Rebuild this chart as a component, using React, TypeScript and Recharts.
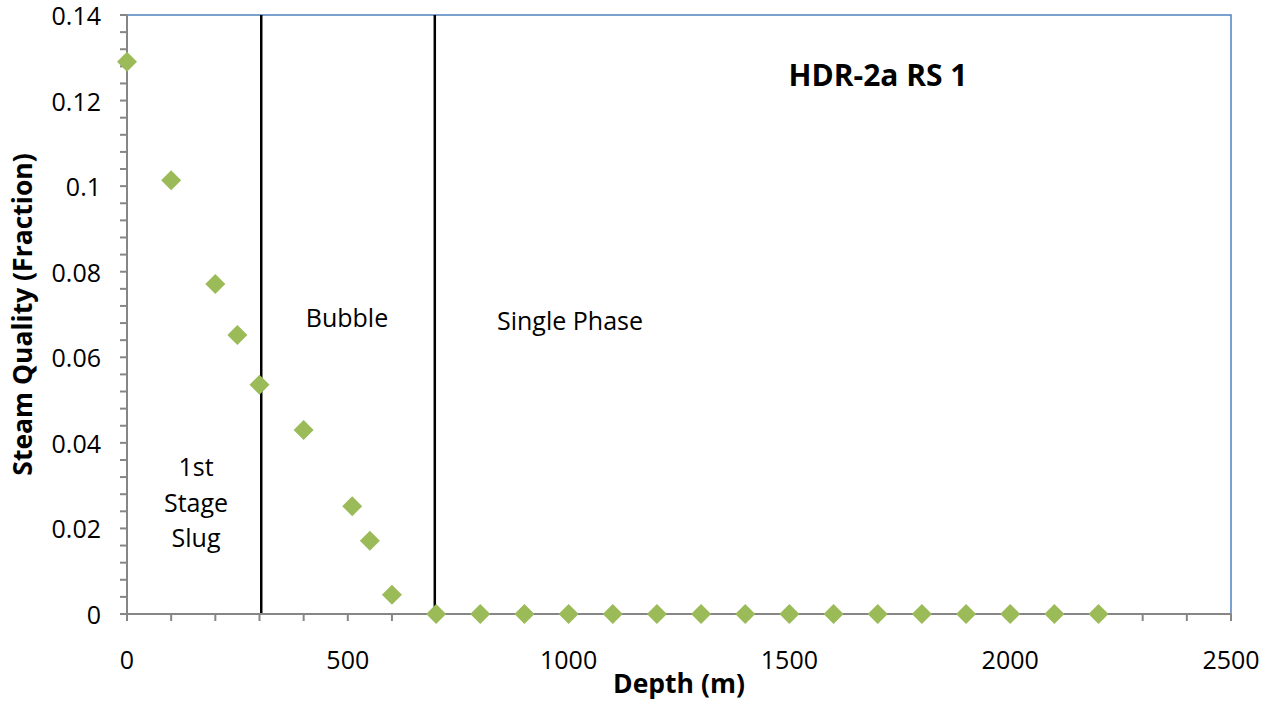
import { ScatterChart, Scatter, XAxis, YAxis, ReferenceLine, ReferenceArea, Label } from 'recharts';

// depth (m) vs steam quality for HDR-2a RS 1
const depth = [0, 100, 200, 250, 300, 400, 510, 550, 600, 700, 800, 900, 1000, 1100, 1200, 1300, 1400, 1500, 1600, 1700, 1800, 1900, 2000, 2100, 2200];
const quality = [0.1291, 0.1014, 0.0771, 0.0652, 0.0536, 0.043, 0.0252, 0.0171, 0.0045, 0, 0, 0, 0, 0, 0, 0, 0, 0, 0, 0, 0, 0, 0, 0, 0];
const regimeBounds = [304, 697];
const xTicks = Array.from({ length: 26 }, (_, i) => i * 100);
const yTicks = Array.from({ length: 36 }, (_, i) => +(i * 0.004).toFixed(3));

const data = depth.map((d, i) => ({ depth: d, quality: quality[i] }));

const FONT = '"Open Sans", sans-serif';
const AXIS = '#868686';

const XTick = ({ x, y, payload }: any) =>
  payload.value % 500 === 0 ? (
    <text x={x} y={y + 36} textAnchor="middle" dominantBaseline="central" fontFamily={FONT} fontSize={25} fill="#000">
      {payload.value}
    </text>
  ) : (
    <g />
  );

const YTick = ({ x, y, payload }: any) => {
  const v = payload.value;
  if (Math.abs(v * 50 - Math.round(v * 50)) > 1e-6) return <g />;
  return (
    <text x={x - 17} y={y} textAnchor="end" dominantBaseline="central" fontFamily={FONT} fontSize={25} fill="#000">
      {String(Number(v.toFixed(2)))}
    </text>
  );
};

const Diamond = ({ cx, cy }: any) => (
  <polygon points={`${cx},${cy - 10} ${cx + 10},${cy} ${cx},${cy + 10} ${cx - 10},${cy}`} fill="#9BBB59" />
);

const note = (left: number, top: number, size: number, bold = false): React.CSSProperties => ({
  position: 'absolute',
  left,
  top,
  transform: 'translate(-50%, -50%)',
  fontFamily: FONT,
  fontSize: size,
  fontWeight: bold ? 700 : 400,
  lineHeight: '35.5px',
  textAlign: 'center',
  whiteSpace: 'nowrap',
  color: '#000',
});

export default function App() {
  return (
    <div style={{ position: 'fixed', left: 0, top: 0, width: 1270, height: 703, background: '#fff' }}>
      <ScatterChart width={1270} height={703} margin={{ top: 15, right: 39, left: 0, bottom: 0 }}>
        <XAxis
          type="number"
          dataKey="depth"
          domain={[0, 2500]}
          ticks={xTicks}
          interval={0}
          height={89}
          tickSize={7}
          tick={<XTick />}
          axisLine={{ stroke: AXIS, strokeWidth: 2 }}
          tickLine={{ stroke: AXIS, strokeWidth: 2 }}
        >
          <Label value="Depth (m)" position="insideBottom" offset={10} fontFamily={FONT} fontSize={26.5} fontWeight={700} fill="#000" />
        </XAxis>
        <YAxis
          type="number"
          dataKey="quality"
          domain={[0, 0.14]}
          ticks={yTicks}
          interval={0}
          width={127}
          tickSize={7}
          tick={<YTick />}
          axisLine={{ stroke: AXIS, strokeWidth: 2 }}
          tickLine={{ stroke: AXIS, strokeWidth: 2 }}
        >
          <Label
            value="Steam Quality (Fraction)"
            position="insideLeft"
            angle={-90}
            offset={23}
            fontFamily={FONT}
            fontSize={26.5}
            fontWeight={700}
            fill="#000"
            style={{ textAnchor: 'middle' }}
          />
        </YAxis>
        <ReferenceArea x1={0} x2={2500} y1={0} y2={0.14} fill="none" stroke="#4F81BD" strokeWidth={1.5} />
        {regimeBounds.map((b) => (
          <ReferenceLine key={b} x={b} stroke="#000" strokeWidth={2.5} />
        ))}
        <Scatter data={data} shape={<Diamond />} isAnimationActive={false} />
      </ScatterChart>
      <div style={note(878, 75, 30, true)}>HDR-2a RS 1</div>
      <div style={note(196, 502, 25)}>
        1st
        <br />
        Stage
        <br />
        Slug
      </div>
      <div style={note(347, 318, 25)}>Bubble</div>
      <div style={note(570, 321, 25)}>Single Phase</div>
    </div>
  );
}
